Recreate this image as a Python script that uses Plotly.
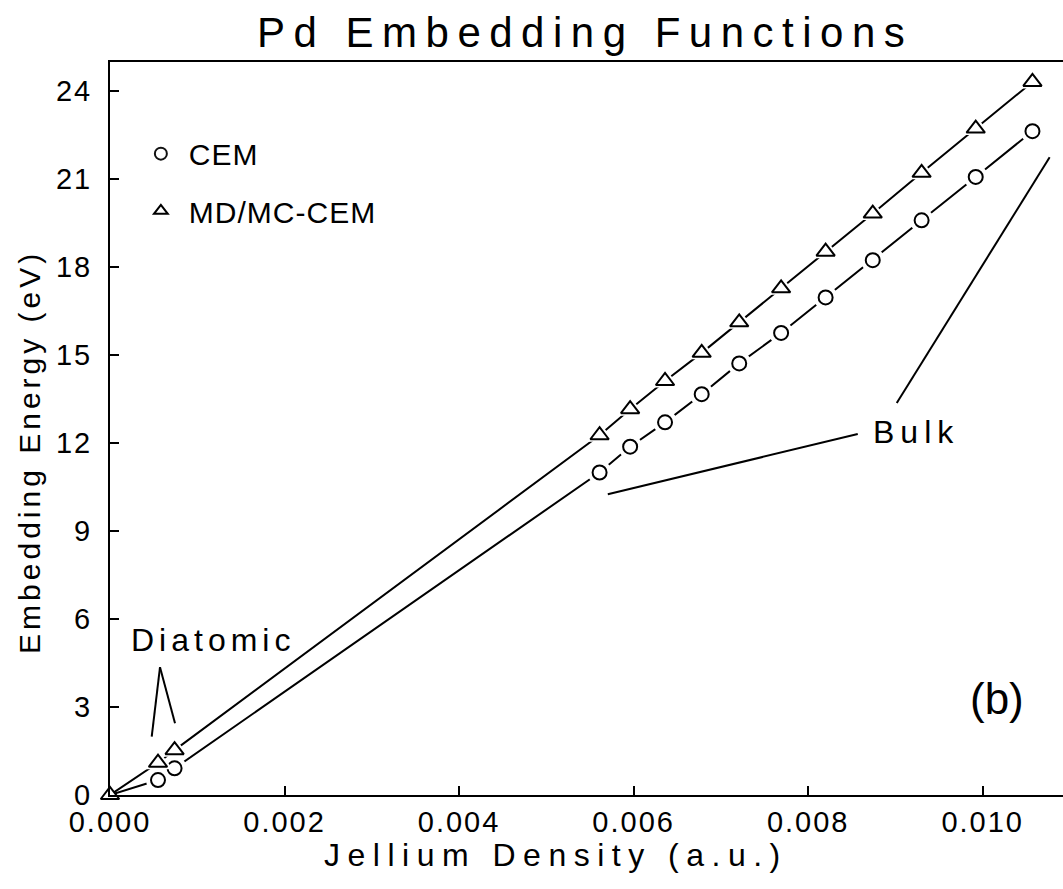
import plotly.graph_objects as go

# Jellium density (a.u.) and embedding energies (eV) for Pd
density = [0.0, 0.00055, 0.00074,
           0.00561, 0.00596, 0.00636, 0.00678, 0.00721, 0.00769,
           0.00820, 0.00874, 0.00930, 0.00992, 0.01057]
cem_energy = [0.0, 0.51, 0.91,
              11.00, 11.88, 12.71, 13.67, 14.72, 15.76,
              16.97, 18.24, 19.60, 21.08, 22.64]
mdmc_energy = [0.0, 1.10, 1.53,
               12.27, 13.16, 14.12, 15.08, 16.12, 17.28,
               18.53, 19.83, 21.22, 22.73, 24.32]

x_ticks = [0.000, 0.002, 0.004, 0.006, 0.008, 0.010]
y_ticks = [0, 3, 6, 9, 12, 15, 18, 21, 24]

FONT = "Liberation Sans, Arial, sans-serif"
INK = "black"


def spaced(text, px):
    return f'<span style="letter-spacing:{px}px">{text}</span>'


fig = go.Figure()

n = len(density)
series = [
    ("CEM", cem_energy, "circle", 14, "legend", [0] + [1] * (n - 1)),
    ("MD/MC-CEM", mdmc_energy, "triangle-up", 16, "legend2", [1] * n),
]

for name, energy, symbol, size, legend_id, opacity in series:
    # connecting line
    fig.add_trace(go.Scatter(
        x=density, y=energy, mode="lines",
        line=dict(color=INK, width=2), showlegend=False, hoverinfo="skip"))
    # white halo so the line stops short of each symbol
    fig.add_trace(go.Scatter(
        x=density, y=energy, mode="markers", cliponaxis=False,
        marker=dict(symbol=symbol, size=size + 10, color="white",
                    opacity=[0] + opacity[1:], line=dict(width=0)),
        showlegend=False, hoverinfo="skip"))
    # open symbols
    fig.add_trace(go.Scatter(
        x=density, y=energy, mode="markers", cliponaxis=False,
        name=spaced(name, 1), legend=legend_id,
        marker=dict(symbol=symbol, size=size, color="white", opacity=opacity,
                    line=dict(color=INK, width=2))))

# leader lines for the labels
leaders = [
    (0.000478, 1.99, 0.000573, 4.36),
    (0.000573, 4.36, 0.000745, 2.45),
    (0.008568, 12.31, 0.005704, 10.26),
    (0.009015, 13.37, 0.010767, 21.75),
]
for x0, y0, x1, y1 in leaders:
    fig.add_shape(type="line", xref="x", yref="y", x0=x0, y0=y0, x1=x1, y1=y1,
                  line=dict(color=INK, width=2))

annotations = [
    dict(text=spaced("Pd Embedding Functions", 8.5), x=0.498, y=1.040,
         font=dict(size=42)),
    dict(text=spaced("Jellium Density (a.u.)", 7.5), x=0.468, y=-0.082,
         font=dict(size=32)),
    dict(text=spaced("Embedding Energy (eV)", 4), x=-0.084, y=0.468,
         textangle=-90, font=dict(size=30)),
    dict(text=spaced("Diatomic", 5), x=0.108, y=0.2115, font=dict(size=32)),
    dict(text=spaced("Bulk", 6), x=0.846, y=0.495, font=dict(size=32)),
    dict(text="(b)", x=0.931, y=0.132, font=dict(size=44)),
]
for a in annotations:
    a.setdefault("xref", "paper")
    a.setdefault("yref", "paper")
    a["showarrow"] = False
    a["xanchor"] = "center"
    a["yanchor"] = "middle"
    a["font"] = dict(family=FONT, color=INK, **a["font"])
    fig.add_annotation(**a)

legend_style = dict(
    bgcolor="rgba(0,0,0,0)", borderwidth=0, xanchor="left", yanchor="middle",
    font=dict(family=FONT, size=30, color=INK), itemwidth=46,
    itemsizing="constant",
)
fig.update_layout(
    legend=dict(x=0.024, y=0.875, **legend_style),
    legend2=dict(x=0.024, y=0.797, **legend_style),
)

fig.update_xaxes(
    range=[0, 0.01092], tickvals=x_ticks,
    ticktext=[spaced(f"{v:.3f}", 2) for v in x_ticks],
    ticks="inside", ticklen=9, tickwidth=2, tickcolor=INK,
    showline=True, linewidth=2, linecolor=INK, mirror=True,
    showgrid=False, zeroline=False,
    tickfont=dict(family=FONT, size=29, color=INK),
)
fig.update_yaxes(
    range=[0, 25], tickvals=y_ticks,
    ticktext=[spaced(str(v), 2) for v in y_ticks],
    ticks="inside", ticklen=9, tickwidth=2, tickcolor=INK,
    showline=True, linewidth=2, linecolor=INK, mirror=False,
    showgrid=False, zeroline=False, ticklabelstandoff=10,
    tickfont=dict(family=FONT, size=29, color=INK),
)

fig.update_layout(
    width=1063, height=889,
    margin=dict(l=110, r=0, t=62, b=94),
    paper_bgcolor="white", plot_bgcolor="white",
    font=dict(family=FONT, color=INK),
)

fig.write_html("out.html")
